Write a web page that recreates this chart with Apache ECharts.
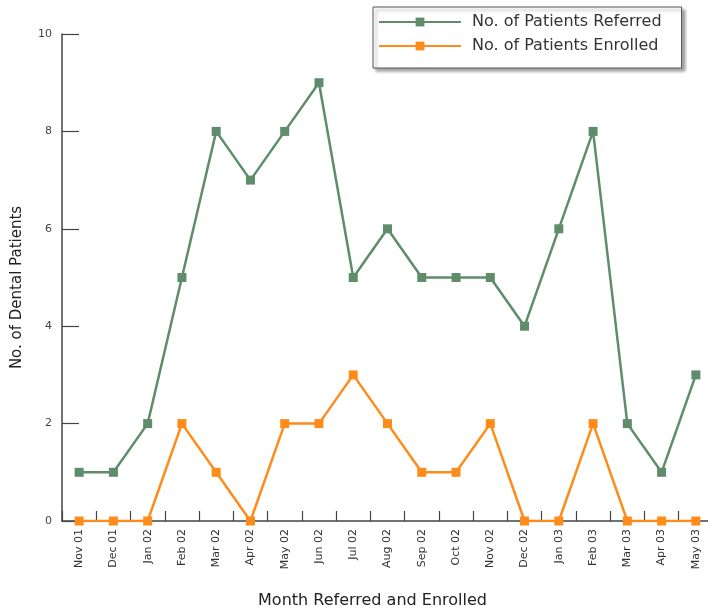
<!DOCTYPE html>
<html>
<head>
<meta charset="utf-8">
<script src="https://cdn.jsdelivr.net/npm/echarts@6/dist/echarts.min.js"></script>
<style>html,body{margin:0;padding:0;background:#fff}#c{width:708px;height:607px}</style>
</head>
<body>
<div id="c"></div>
<script>
var months = ["Nov 01","Dec 01","Jan 02","Feb 02","Mar 02","Apr 02","May 02","Jun 02","Jul 02","Aug 02","Sep 02","Oct 02","Nov 02","Dec 02","Jan 03","Feb 03","Mar 03","Apr 03","May 03"];
var referred = [1,1,2,5,8,7,8,9,5,6,5,5,5,4,6,8,2,1,3];
var enrolled = [0,0,0,2,1,0,2,2,3,2,1,1,2,0,0,2,0,0,0];
var yTicks = [0,2,4,6,8,10];

var chart = echarts.init(document.getElementById('c'), null, {renderer:'canvas'});
var font = 'DejaVu Sans, Verdana, sans-serif';
chart.setOption({
  animation:false,
  backgroundColor:'#fff',
  grid:{left:62, width:651, top:34, bottom:86, containLabel:false, outerBoundsMode:'none'},
  legend:{
    left:373, top:7, orient:'vertical',
    data:['No. of Patients Referred','No. of Patients Enrolled'],
    itemWidth:82, itemHeight:11, itemGap:8,
    padding:[7,20,14,5],
    backgroundColor:'#fff', borderColor:'#555', borderWidth:1,
    shadowColor:'rgba(0,0,0,0.35)', shadowBlur:3, shadowOffsetX:3, shadowOffsetY:3,
    textStyle:{fontFamily:font, fontSize:16, color:'#333', padding:[0,0,0,6]}
  },
  xAxis:{
    type:'category', data:months, boundaryGap:true,
    name:'Month Referred and Enrolled', nameLocation:'middle', nameGap:72,
    nameTextStyle:{fontFamily:font, fontSize:16, color:'#222', padding:[0,30,0,0]},
    axisLine:{lineStyle:{color:'#444', width:1.5}},
    axisTick:{show:true, inside:true, length:10, lineStyle:{color:'#444', width:1.2}, alignWithLabel:false},
    axisLabel:{rotate:90, fontFamily:font, fontSize:11, color:'#333', margin:8},
    splitLine:{show:false}
  },
  yAxis:{
    type:'value', min:0, max:10, interval:2,
    name:'No. of Dental Patients', nameLocation:'middle', nameGap:37,
    nameTextStyle:{fontFamily:font, fontSize:15, color:'#222', padding:[0,20,0,0]},
    axisLine:{show:true, lineStyle:{color:'#444', width:1.5}},
    axisTick:{show:true, inside:true, length:17, lineStyle:{color:'#444', width:1.2}},
    axisLabel:{fontFamily:font, fontSize:11, color:'#444', margin:10},
    splitLine:{show:false}
  },
  series:[
    {name:'No. of Patients Referred', type:'line', data:referred,
     symbol:'rect', symbolSize:9, showAllSymbol:true,
     lineStyle:{color:'#5f8c6a', width:2.5}, itemStyle:{color:'#5f8c6a'}},
    {name:'No. of Patients Enrolled', type:'line', data:enrolled,
     symbol:'rect', symbolSize:9, showAllSymbol:true,
     lineStyle:{color:'#ff8c1a', width:2.5}, itemStyle:{color:'#ff8c1a'}}
  ]
});
</script>
</body>
</html>
